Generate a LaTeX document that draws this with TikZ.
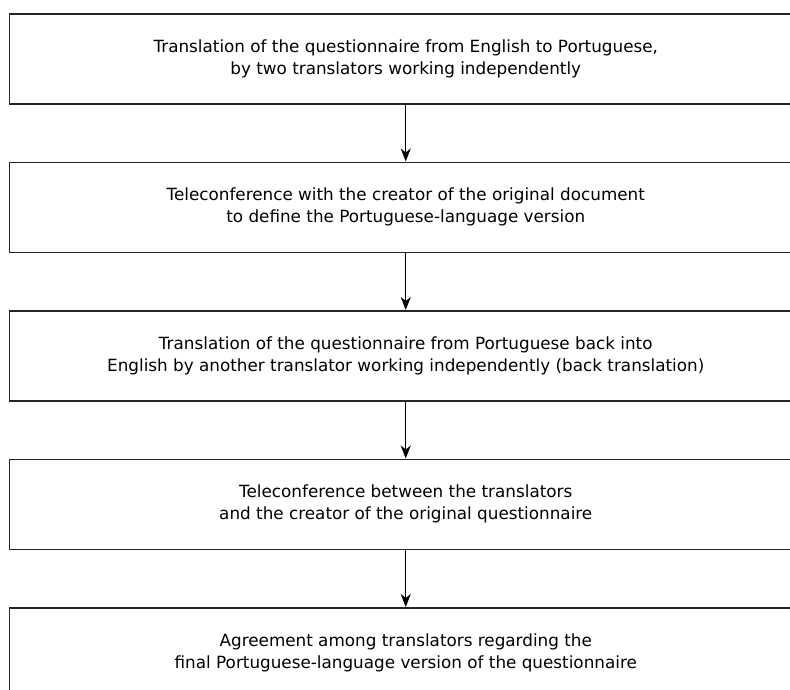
\documentclass[tikz,border=0pt]{standalone}
\usepackage{fontspec}
\setmainfont{DejaVu Sans}
\usetikzlibrary{arrows.meta}
\begin{document}
\begin{tikzpicture}[x=1pt,y=-1pt,
  stepbox/.style={draw=black!85,line width=1.5pt,minimum width=793pt,minimum height=90pt,
    align=center,inner sep=0pt,font=\fontsize{16.8}{22}\selectfont,anchor=north west},
  flow/.style={line width=1.2pt,-{Stealth[length=13pt,width=10pt,inset=4pt]}}]
\useasboundingbox (0,0) rectangle (790,689);
\node[stepbox] (b1) at (8.5,13) {Translation of the questionnaire from English to Portuguese,\\by two translators working independently};
\node[stepbox] (b2) at (8.5,161.5) {Teleconference with the creator of the original document\\to define the Portuguese-language version};
\node[stepbox] (b3) at (8.5,310) {Translation of the questionnaire from Portuguese back into\\English by another translator working independently (back translation)};
\node[stepbox] (b4) at (8.5,458.5) {Teleconference between the translators\\and the creator of the original questionnaire};
\node[stepbox] (b5) at (8.5,607) {Agreement among translators regarding the\\final Portuguese-language version of the questionnaire};
\draw[flow] (b1.south) -- (b2.north);
\draw[flow] (b2.south) -- (b3.north);
\draw[flow] (b3.south) -- (b4.north);
\draw[flow] (b4.south) -- (b5.north);
\end{tikzpicture}
\end{document}
